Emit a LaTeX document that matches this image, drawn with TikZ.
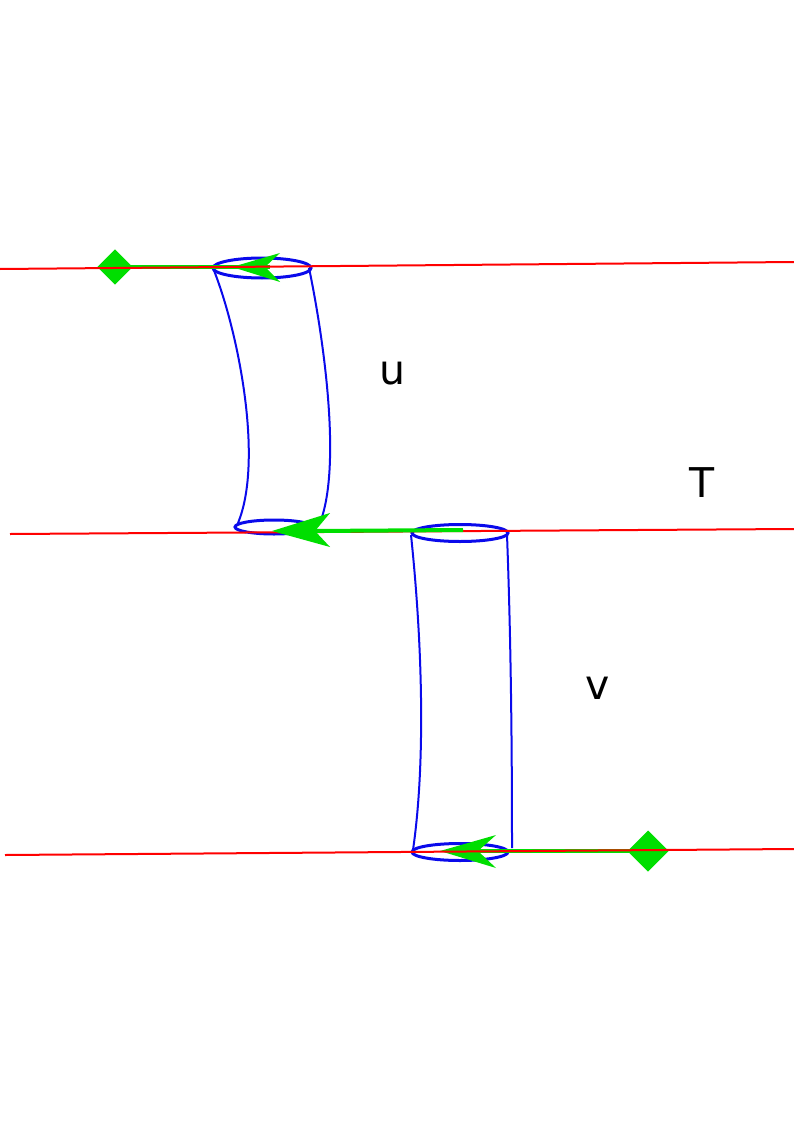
\documentclass[tikz,border=0pt]{standalone}
\usepackage{fontspec}
\setmainfont{DejaVu Sans}
\definecolor{grnc}{RGB}{0,222,0}
\definecolor{bluc}{RGB}{10,10,235}
\begin{document}
\begin{tikzpicture}[x=1pt,y=-1pt,
  redline/.style={draw=red, line width=2pt},
  rim/.style={draw=bluc, line width=3pt},
  side/.style={draw=bluc, line width=2pt},
  grnline/.style={draw=grnc, line width=3.5pt},
  diam/.style={fill=grnc, shape=rectangle, rotate=45, inner sep=0pt},
  lbl/.style={font=\fontsize{41}{41}\selectfont, inner sep=0pt}]
\useasboundingbox (0,0) rectangle (794,1123);
% coordinates
\coordinate (L1a) at (0,269); \coordinate (L1b) at (794,262);
\coordinate (L2a) at (10,534); \coordinate (L2b) at (794,529);
\coordinate (L3a) at (5,855); \coordinate (L3b) at (794,849);
% cylinder 1
\draw[side] (213,268) .. controls (238,330) and (264,460) .. (238,523);
\draw[side] (309,268) .. controls (322,330) and (342,460) .. (321,520);
\draw[rim] (262,268) ellipse [x radius=49, y radius=10];
\draw[rim] (274,527) ellipse [x radius=39, y radius=7];
% cylinder 2
\draw[side] (411,535) .. controls (422,640) and (426,760) .. (413,850);
\draw[side] (507,535) .. controls (511,640) and (512,750) .. (512,848);
\draw[rim] (460,533) ellipse [x radius=48, y radius=8.5];
\draw[rim] (460,852) ellipse [x radius=48, y radius=8.5];
% top green arrow
\node[diam, minimum size=25pt] (d1) at (115,267) {};
\draw[grnline] (d1.center) -- (270,267);
\fill[grnc] (232,267) -- (280,253) -- (265,267) -- (280,282) -- cycle;
% bottom green arrow
\node[diam, minimum size=29pt] (d3) at (648,851) {};
\draw[grnline] (d3.center) -- (478,851);
\fill[grnc] (440,851) -- (496,835) -- (478,851) -- (496,868) -- cycle;
% red lines
\draw[redline] (L1a) -- (L1b);
\draw[redline] (L2a) -- (L2b);
\draw[redline] (L3a) -- (L3b);
% middle green arrow (over red)
\draw[draw=grnc, line width=4pt] (463,530) -- (312,531);
\fill[grnc] (272,531) -- (330,513) -- (315,531) -- (330,547) -- cycle;
% labels
\node[lbl] (u) at (392,373) {u};
\node[lbl] (T) at (702,483) {T};
\node[lbl] (v) at (598,688) {v};
\end{tikzpicture}
\end{document}
